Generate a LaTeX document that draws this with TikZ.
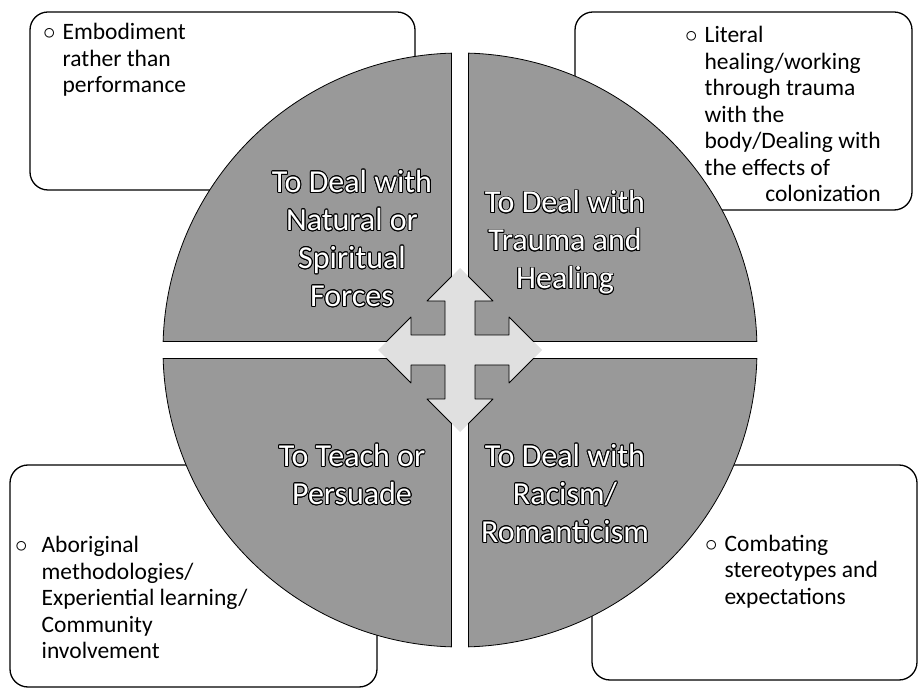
\documentclass[tikz,border=0pt]{standalone}
\usepackage{fontspec}
\setmainfont{Carlito}
\usepackage{contour}
\contourlength{0.9pt}
\newcommand\qline[1]{\contour{black}{#1}}
\begin{document}
\begin{tikzpicture}[x=1pt,y=1pt,
  box/.style={draw=black,line width=1.3pt,rounded corners=18pt,fill=white},
  quad/.style={fill=black!40,draw=black,line width=0.8pt,line join=round},
  ctr/.style={fill=black!12},
  qtext/.style={font=\fontsize{32}{38}\selectfont,align=center,text=white,inner sep=0pt},
  btext/.style={font=\fontsize{23.5}{26.5}\selectfont,inner sep=0pt,anchor=base west}]
\useasboundingbox (0,0) rectangle (919,689);
% corner boxes
\draw[box] (30,499) rectangle (415,677);
\draw[box] (575,479) rectangle (912,677);
\draw[box] (10,2) rectangle (377,224);
\draw[box] (592,9) rectangle (917,224);
% central four-way arrow
\fill[ctr] (460,421) -- (493,388) -- (475,388) -- (475,354) -- (509,354) -- (509,372) -- (542,339)
  -- (509,306) -- (509,324) -- (475,324) -- (475,290) -- (493,290) -- (460,257) -- (427,290) -- (445,290)
  -- (445,324) -- (411,324) -- (411,306) -- (378,339) -- (411,372) -- (411,354) -- (445,354) -- (445,388)
  -- (427,388) -- cycle;
% quadrants
\foreach \r in {0,90,180,270}{
 \begin{scope}[shift={(460,339)},rotate=\r]
  \filldraw[quad] (8.5,73.5) -- (8.5,296.88) arc[start angle=88.36,end angle=1.64,radius=297pt]
    -- (73.5,8.5) -- (49,33) -- (49,15) -- (15,15) -- (15,49) -- (33,49) -- cycle;
 \end{scope}
}
% quadrant texts
\node[qtext] (q1) at (352,450) {\qline{To Deal with}\\\qline{Natural or}\\\qline{Spiritual}\\\qline{Forces}};
\node[qtext] (q2) at (565,446) {\qline{To Deal with}\\\qline{Trauma and}\\\qline{Healing}};
\node[qtext] (q3) at (352,214) {\qline{To Teach or}\\\qline{Persuade}};
\node[qtext] (q4) at (565,195) {\qline{To Deal with}\\\qline{Racism/}\\\qline{Romanticism}};
% box texts
\node[btext] (t1) at (43,649) {\begin{tabular}[t]{@{}c@{\hspace{7pt}}l@{}}$\circ$&Embodiment\\&rather than\\&performance\end{tabular}};
\node[btext] (t2) at (685,646) {\begin{tabular}[t]{@{}c@{\hspace{7pt}}l@{}}$\circ$&Literal\\&healing/working\\&through trauma\\&with the\\&body/Dealing with\\&the effects of\\&\hfill colonization\end{tabular}};
\node[btext] (t3) at (15,136) {\begin{tabular}[t]{@{}c@{\hspace{14pt}}l@{}}$\circ$&Aboriginal\\&methodologies/\\&Experiential learning/\\&Community\\&involvement\end{tabular}};
\node[btext] (t4) at (705,138) {\begin{tabular}[t]{@{}c@{\hspace{7pt}}l@{}}$\circ$&Combating\\&stereotypes and\\&expectations\end{tabular}};
\end{tikzpicture}
\end{document}
